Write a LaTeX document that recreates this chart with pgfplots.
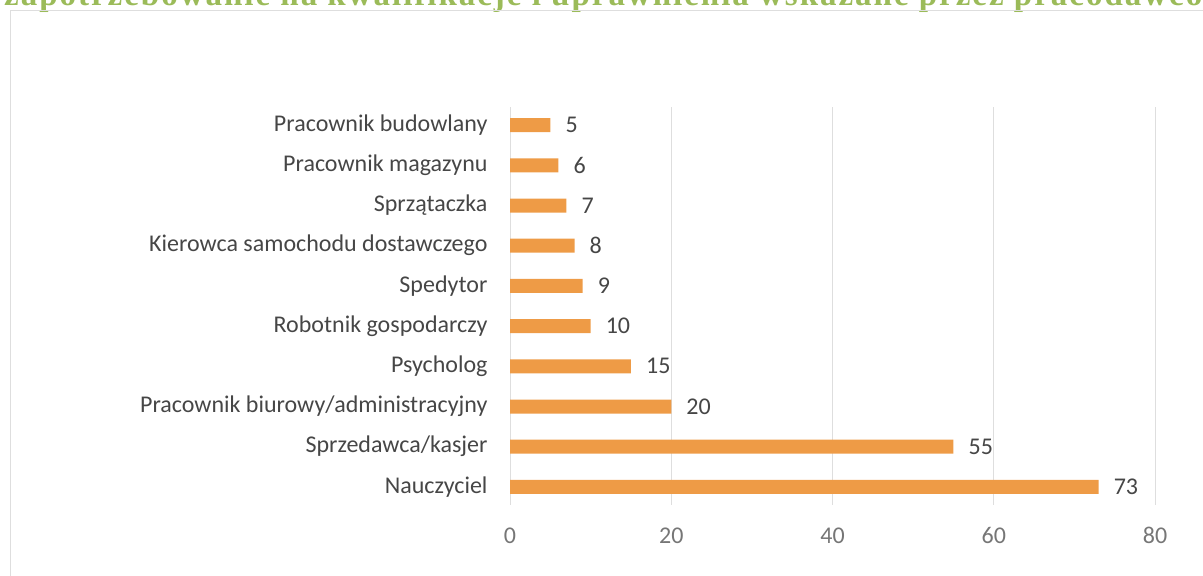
\documentclass[border=0pt]{standalone}
\usepackage{pgfplots}
\pgfplotsset{compat=1.18}
\usepackage{fontspec}
\setmainfont{Carlito}
\newfontfamily\titlefont[LetterSpace=6]{Liberation Serif}
\definecolor{barc}{RGB}{238,155,70}
\definecolor{titlegreen}{RGB}{155,187,89}
\definecolor{labc}{RGB}{70,70,70}
\definecolor{tickc}{RGB}{118,118,118}
\definecolor{gridc}{RGB}{222,222,222}
\begin{document}
\begin{tikzpicture}[x=1pt,y=1pt]
\path[use as bounding box] (0,0) rectangle (1203,576);
\begin{scope}
\clip (0,0) rectangle (1203,576);
\node[anchor=base west, inner sep=0, text=titlegreen, font=\titlefont\bfseries\fontsize{33}{38}\selectfont] at (4,570) {zapotrzebowanie na kwalifikacje i uprawnienia wskazane przez pracodawców};
\end{scope}
\draw[gridc, line width=0.8pt] (10,0) -- (10,566) -- (1203,566);
\begin{axis}[
  at={(510pt,71pt)}, anchor=south west,
  scale only axis, width=645pt, height=398pt,
  xmin=0, xmax=80, ymin=-0.45, ymax=9.45,
  xbar, bar width=14pt,
  axis line style={draw=none},
  major tick length=0pt,
  xmajorgrids, grid style={gridc, line width=0.8pt},
  xtick={0,20,40,60,80},
  ytick={0,...,9},
  yticklabels={Nauczyciel, Sprzedawca/kasjer, Pracownik biurowy/administracyjny, Psycholog, Robotnik gospodarczy, Spedytor, Kierowca samochodu dostawczego, Sprzątaczka, Pracownik magazynu, Pracownik budowlany},
  /pgf/number format/assume math mode=true,
  ticklabel style={font=\fontsize{24}{28}\selectfont},
  yticklabel style={text=labc, xshift=-19pt},
  xticklabel style={text=tickc, yshift=-19pt},
  nodes near coords,
  nodes near coords style={font=\fontsize{24}{28}\selectfont, text=labc, anchor=west, inner sep=2pt, xshift=13pt},
]
\addplot[draw=none, fill=barc] coordinates {
(73,0) (55,1) (20,2) (15,3) (10,4) (9,5) (8,6) (7,7) (6,8) (5,9)
};
\end{axis}
\end{tikzpicture}
\end{document}
